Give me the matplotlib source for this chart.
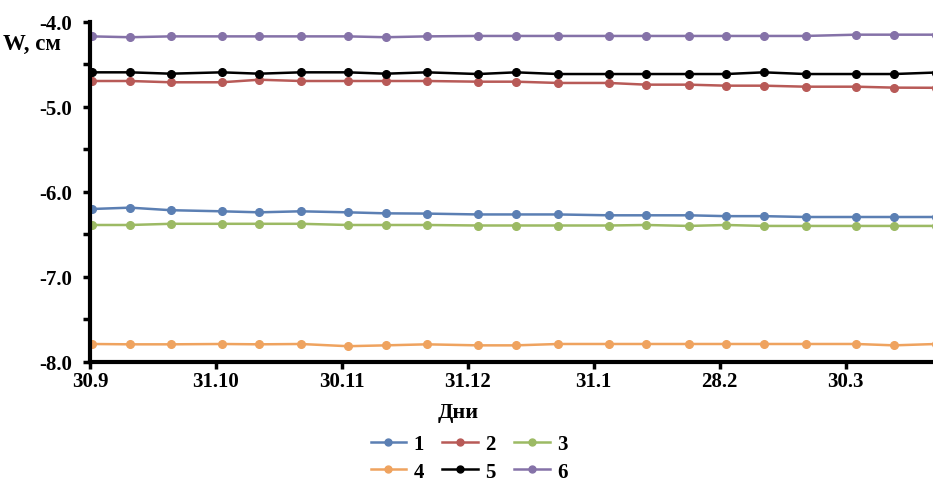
import matplotlib
matplotlib.use("Agg")
import matplotlib.pyplot as plt
from matplotlib.ticker import MultipleLocator, FormatStrFormatter
from matplotlib.lines import Line2D

# x positions in month units (0 = 30.9, 1 = 31.10, ...)
x_pos = [0.013, 0.318, 0.641, 1.046, 1.344, 1.673, 2.046, 2.348, 2.673, 3.083,
         3.382, 3.718, 4.118, 4.414, 4.753, 5.050, 5.349, 5.682, 6.084, 6.383, 6.72]
tick_labels = ["30.9", "31.10", "30.11", "31.12", "31.1", "28.2", "30.3"]
series_names = ["1", "2", "3", "4", "5", "6"]

s1 = [-6.206, -6.19, -6.22, -6.233, -6.245, -6.233, -6.245, -6.257, -6.26, -6.27,
      -6.27, -6.27, -6.28, -6.28, -6.28, -6.29, -6.29, -6.30, -6.30, -6.30, -6.30]
s2 = [-4.70, -4.70, -4.715, -4.715, -4.685, -4.70, -4.70, -4.70, -4.70, -4.708,
      -4.708, -4.723, -4.723, -4.743, -4.743, -4.755, -4.755, -4.767, -4.767, -4.778, -4.78]
s3 = [-6.394, -6.394, -6.38, -6.38, -6.38, -6.38, -6.394, -6.394, -6.394, -6.40,
      -6.40, -6.40, -6.40, -6.394, -6.405, -6.394, -6.405, -6.405, -6.405, -6.405, -6.405]
s4 = [-7.794, -7.798, -7.798, -7.794, -7.798, -7.794, -7.82, -7.81, -7.798, -7.81,
      -7.81, -7.794, -7.794, -7.794, -7.794, -7.794, -7.794, -7.794, -7.794, -7.81, -7.794]
s5 = [-4.598, -4.598, -4.614, -4.598, -4.614, -4.598, -4.598, -4.614, -4.598, -4.618,
      -4.598, -4.618, -4.618, -4.618, -4.618, -4.618, -4.598, -4.618, -4.618, -4.618, -4.60]
s6 = [-4.175, -4.185, -4.175, -4.175, -4.175, -4.175, -4.175, -4.185, -4.175, -4.17,
      -4.17, -4.17, -4.17, -4.17, -4.17, -4.17, -4.17, -4.17, -4.155, -4.155, -4.155]

series = [s1, s2, s3, s4, s5, s6]
colors = ["#5B7FB3", "#B85A57", "#9CBA64", "#EFA35F", "#000000", "#8572A8"]

W, H = 933, 485
fig = plt.figure(figsize=(W / 100, H / 100), dpi=100)
ax = fig.add_axes([90 / W, 1 - 362.5 / H, (933 - 90) / W, (362.5 - 22.5) / H])

serif = ["Liberation Serif", "DejaVu Serif"]
for vals, c, name in zip(series, colors, series_names):
    ax.plot(x_pos, vals, color=c, lw=1.8, marker="o", ms=5.5, label=name, clip_on=True)

ax.set_xlim(0, (933 - 90) / 125.95)
ax.set_ylim(-8, -4)
ax.set_xticks(range(len(tick_labels)))
ax.set_xticklabels(tick_labels)
ax.yaxis.set_major_locator(MultipleLocator(1.0))
ax.yaxis.set_minor_locator(MultipleLocator(0.5))
ax.yaxis.set_major_formatter(FormatStrFormatter("%.1f"))

for sp in ["top", "right"]:
    ax.spines[sp].set_visible(False)
for sp in ["left", "bottom"]:
    ax.spines[sp].set_linewidth(3)
    ax.spines[sp].set_color("black")

ax.tick_params(axis="both", which="both", direction="out", length=5, width=2.5, color="black")
ax.tick_params(axis="y", which="major", pad=8)
ax.tick_params(axis="x", which="major", pad=2)
for lab in ax.get_xticklabels() + ax.get_yticklabels():
    lab.set_fontfamily(serif)
    lab.set_fontweight("bold")
    lab.set_fontsize(15)

fig.text(3 / W, 1 - 44 / H, "W, см", fontfamily=serif, fontweight="bold",
         fontsize=16.5, ha="left", va="center")
fig.text(458 / W, 1 - 413 / H, "Дни", fontfamily=serif, fontweight="bold",
         fontsize=16, ha="center", va="center")

handles = [Line2D([0], [0], color=c, lw=1.8, marker="o", ms=5) for c in colors]
order = [0, 3, 1, 4, 2, 5]
leg = fig.legend([handles[i] for i in order], [series_names[i] for i in order],
                 ncol=3, loc="center",
                 bbox_to_anchor=(469 / W, 1 - 459 / H), frameon=False,
                 prop={"family": serif, "weight": "bold", "size": 15},
                 handlelength=1.7, handletextpad=0.35, columnspacing=0.9,
                 labelspacing=0.35, borderaxespad=0, borderpad=0)

fig.savefig("out.png", dpi=100)
